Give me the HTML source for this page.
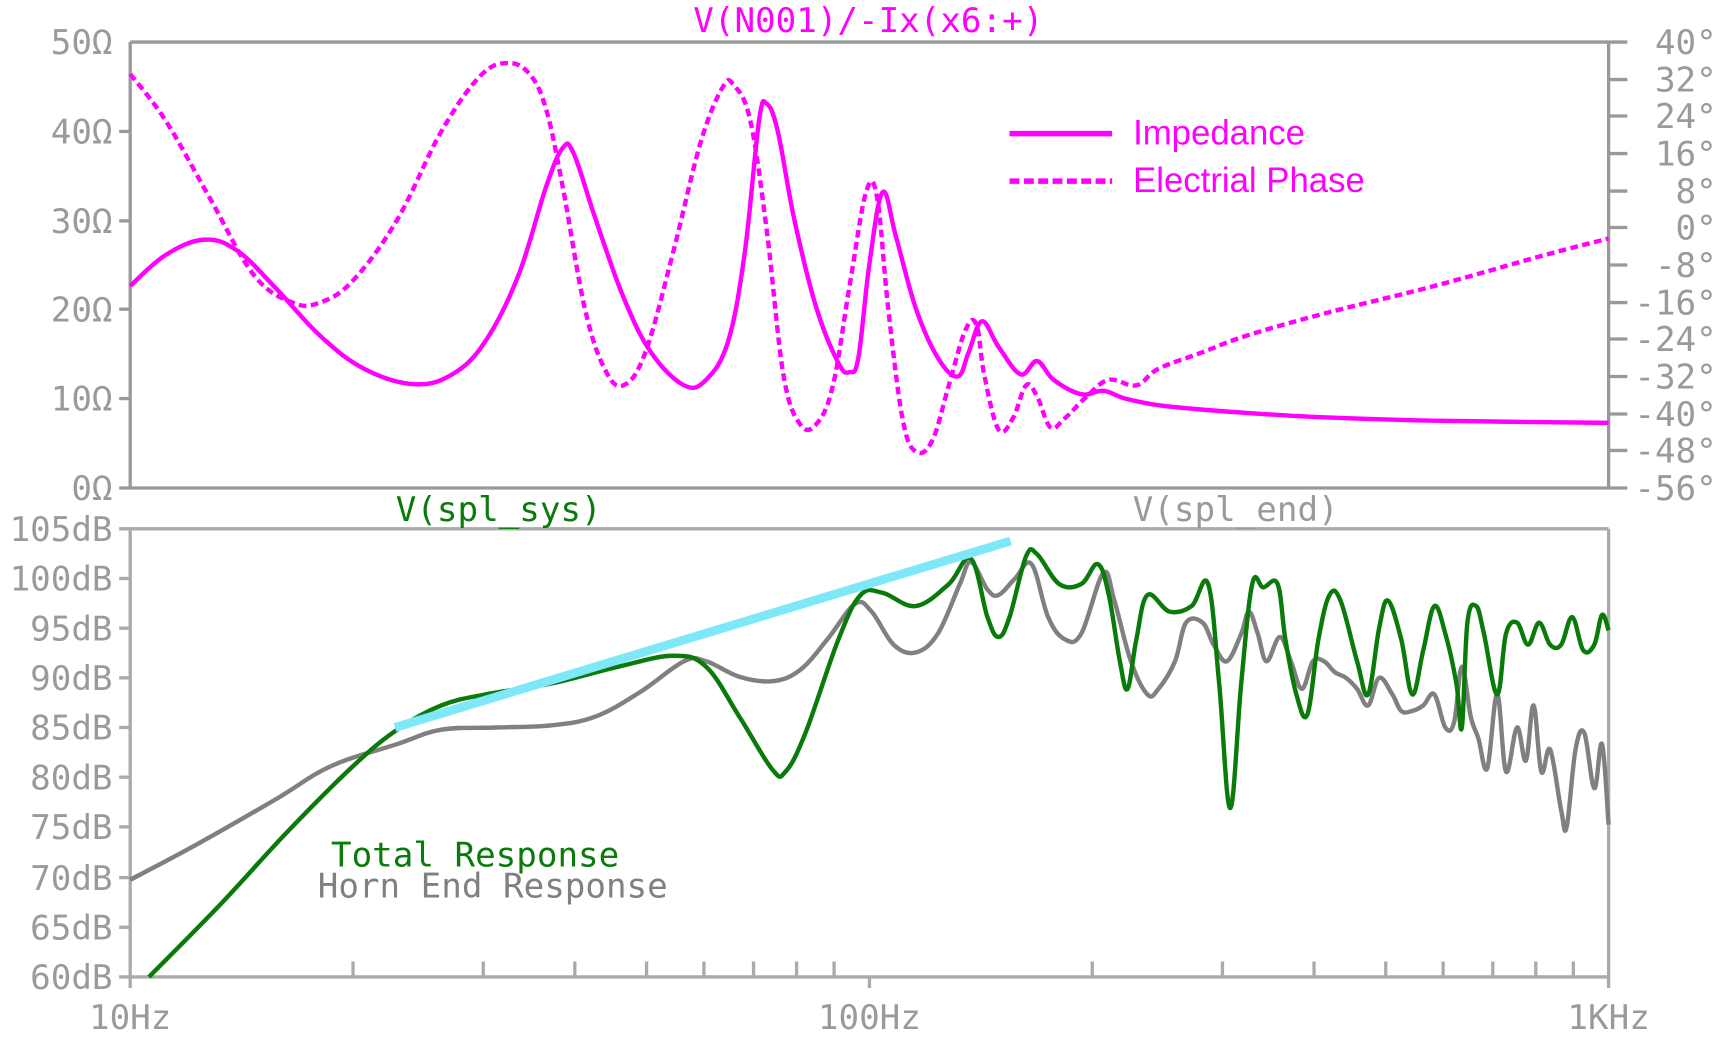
<!DOCTYPE html>
<html><head><meta charset="utf-8"><style>
html,body{margin:0;padding:0;background:#fff;}
svg{display:block;}
.m{font-family:"DejaVu Sans Mono","Liberation Mono",monospace;font-size:31px;fill:#9a9a9a;}
</style></head><body>
<svg width="1730" height="1046" xmlns="http://www.w3.org/2000/svg">
<g transform="matrix(1.1033 0 0 1.1038 0 -1)">
<g stroke="#999" stroke-width="3" fill="none">
<line x1="118" y1="39" x2="1475" y2="39"/>
<line x1="108" y1="443" x2="1475" y2="443"/>
<line x1="118" y1="39" x2="118" y2="443"/>
<line x1="1458" y1="39" x2="1458" y2="443"/>
<line x1="108" y1="120" x2="118" y2="120"/><line x1="108" y1="201" x2="118" y2="201"/>
<line x1="108" y1="281" x2="118" y2="281"/><line x1="108" y1="362" x2="118" y2="362"/>
<line x1="1458" y1="73" x2="1475" y2="73"/><line x1="1458" y1="106" x2="1475" y2="106"/>
<line x1="1458" y1="140" x2="1475" y2="140"/><line x1="1458" y1="174" x2="1475" y2="174"/>
<line x1="1458" y1="207" x2="1475" y2="207"/><line x1="1458" y1="241" x2="1475" y2="241"/>
<line x1="1458" y1="275" x2="1475" y2="275"/><line x1="1458" y1="308" x2="1475" y2="308"/>
<line x1="1458" y1="342" x2="1475" y2="342"/><line x1="1458" y1="376" x2="1475" y2="376"/>
<line x1="1458" y1="409" x2="1475" y2="409"/>
</g>
<g stroke="#aaa" stroke-width="3" fill="none">
<line x1="108" y1="480" x2="1458" y2="480"/>
<line x1="108" y1="886" x2="1458" y2="886"/>
<line x1="118" y1="480" x2="118" y2="896"/>
<line x1="1458" y1="480" x2="1458" y2="896"/>
<line x1="108" y1="525" x2="118" y2="525"/><line x1="108" y1="570" x2="118" y2="570"/>
<line x1="108" y1="615" x2="118" y2="615"/><line x1="108" y1="660" x2="118" y2="660"/>
<line x1="108" y1="705" x2="118" y2="705"/><line x1="108" y1="750" x2="118" y2="750"/>
<line x1="108" y1="796" x2="118" y2="796"/><line x1="108" y1="841" x2="118" y2="841"/>
<path d="M320 886v-14M438 886v-14M521 886v-14M586 886v-14M638 886v-14M683 886v-14M722 886v-14M756 886v-14M788 886v10M990 886v-14M1108 886v-14M1191 886v-14M1256 886v-14M1308 886v-14M1353 886v-14M1392 886v-14M1426 886v-14"/>
</g>
<g class="m" text-anchor="end">
<text x="102" y="50">50Ω</text><text x="102" y="131">40Ω</text><text x="102" y="212">30Ω</text>
<text x="102" y="292">20Ω</text><text x="102" y="373">10Ω</text><text x="102" y="454">0Ω</text>
<text x="102" y="491">105dB</text><text x="102" y="536">100dB</text><text x="102" y="581">95dB</text>
<text x="102" y="626">90dB</text><text x="102" y="671">85dB</text><text x="102" y="716">80dB</text>
<text x="102" y="761">75dB</text><text x="102" y="807">70dB</text><text x="102" y="852">65dB</text>
<text x="102" y="897">60dB</text>
<text x="1556" y="50">40°</text><text x="1556" y="84">32°</text><text x="1556" y="117">24°</text>
<text x="1556" y="151">16°</text><text x="1556" y="185">8°</text><text x="1556" y="218">0°</text>
<text x="1556" y="252">-8°</text><text x="1556" y="286">-16°</text><text x="1556" y="319">-24°</text>
<text x="1556" y="353">-32°</text><text x="1556" y="387">-40°</text><text x="1556" y="420">-48°</text>
<text x="1556" y="454">-56°</text>
</g>
<g class="m" text-anchor="middle">
<text x="118" y="933">10Hz</text><text x="788" y="933">100Hz</text><text x="1458" y="933">1KHz</text>
<text x="787" y="30" style="fill:#f0f">V(N001)/-Ix(x6:+)</text>
<text x="452" y="473" style="fill:#0a7a0a">V(spl_sys)</text>
<text x="1120" y="473">V(spl_end)</text>
</g>
<text class="m" x="300" y="786" style="fill:#0a7a0a">Total Response</text>
<text class="m" x="288" y="814" style="fill:#808080">Horn End Response</text>
<line x1="915" y1="122" x2="1008" y2="122" stroke="#f0f" stroke-width="5"/>
<line x1="915" y1="165" x2="1008" y2="165" stroke="#f0f" stroke-width="5" stroke-dasharray="9,4"/>
<text x="1027" y="132" style="font-family:'Liberation Sans',sans-serif;font-size:31.5px;fill:#f0f">Impedance</text>
<text x="1027" y="175" style="font-family:'Liberation Sans',sans-serif;font-size:31.5px;fill:#f0f">Electrial Phase</text>
<g fill="none" stroke-linejoin="round" stroke-width="4">
<path class="c" stroke="#f0f" data-p="118,260 150,232 185,218 215,228 250,262 290,305 330,335 375,349 410,340 440,310 470,250 495,170 510,135 520,140 540,200 565,270 590,320 620,350 640,345 660,310 675,230 688,110 695,95 705,120 720,200 740,280 760,330 770,338 778,325 788,240 800,175 812,215 830,280 850,325 868,342 878,320 890,292 905,315 925,340 940,328 955,345 980,358 1000,355 1020,362 1050,368 1090,372 1130,375 1200,379 1300,382 1458,384"/>
<path class="c" stroke="#f0f" stroke-dasharray="7,4" data-p="118,68 150,110 190,180 230,250 265,275 290,275 320,255 360,200 400,120 435,70 460,58 480,68 495,100 510,170 530,280 548,335 565,350 585,320 610,230 635,130 655,80 665,78 680,110 695,210 710,340 725,385 740,385 755,350 770,260 785,175 795,180 805,280 818,380 830,410 845,400 860,350 875,300 885,295 892,340 905,390 918,380 930,350 940,360 952,388 965,380 985,360 1005,345 1030,350 1050,335 1090,320 1130,305 1200,285 1300,260 1400,232 1458,217"/>
<path class="c" stroke="#808080" data-p="118,798 180,765 250,725 300,695 360,675 400,662 450,660 500,658 540,650 580,628 620,600 640,600 670,614 700,618 725,608 750,580 775,548 790,555 810,585 830,592 850,575 870,530 880,510 895,535 905,540 920,525 935,512 950,560 965,580 980,575 1000,520 1010,545 1025,600 1040,630 1050,625 1065,600 1075,565 1090,565 1100,585 1112,600 1125,575 1132,555 1140,575 1148,600 1160,578 1170,600 1180,625 1190,600 1200,600 1210,610 1220,615 1230,625 1240,640 1250,615 1262,630 1270,645 1280,645 1290,640 1300,630 1310,660 1318,655 1325,605 1333,650 1340,670 1348,697 1357,630 1365,700 1375,660 1383,690 1390,640 1397,700 1405,680 1415,735 1420,750 1428,680 1436,665 1445,715 1452,675 1458,748"/>
<path class="c" stroke="#0a7a0a" data-p="135,886 200,820 260,755 320,695 360,662 400,640 440,630 500,620 560,605 610,595 640,605 670,650 700,698 712,700 730,665 760,580 780,540 800,538 830,550 860,530 880,507 895,560 905,578 915,560 930,505 940,503 960,530 980,530 995,512 1005,540 1015,600 1022,625 1030,580 1040,540 1060,555 1080,550 1095,530 1105,620 1115,733 1125,620 1135,530 1145,533 1158,530 1165,580 1175,630 1185,648 1195,580 1205,540 1215,545 1230,600 1240,630 1250,570 1258,545 1270,580 1280,630 1290,590 1300,550 1310,575 1320,620 1325,660 1330,565 1338,550 1345,575 1357,630 1365,575 1375,565 1385,585 1395,565 1405,585 1415,585 1425,560 1435,590 1445,585 1452,558 1458,572"/>
<line x1="358" y1="660" x2="916" y2="491" stroke="#7fe8f8" stroke-width="8"/>
</g>
</g>
</svg>
<script>
document.querySelectorAll('path.c').forEach(function(el){
var p=el.getAttribute('data-p').trim().split(/\s+/).map(function(s){var a=s.split(',');return [+a[0],+a[1]];});
var d='M'+p[0][0]+' '+p[0][1];
for(var i=0;i<p.length-1;i++){
var p0=p[i>0?i-1:i],p1=p[i],p2=p[i+1],p3=p[i+2<p.length?i+2:i+1];
var t=0.18;
d+=' C'+(p1[0]+(p2[0]-p0[0])*t)+' '+(p1[1]+(p2[1]-p0[1])*t)+' '+(p2[0]-(p3[0]-p1[0])*t)+' '+(p2[1]-(p3[1]-p1[1])*t)+' '+p2[0]+' '+p2[1];
}
el.setAttribute('d',d);
});
</script>
</body></html>
